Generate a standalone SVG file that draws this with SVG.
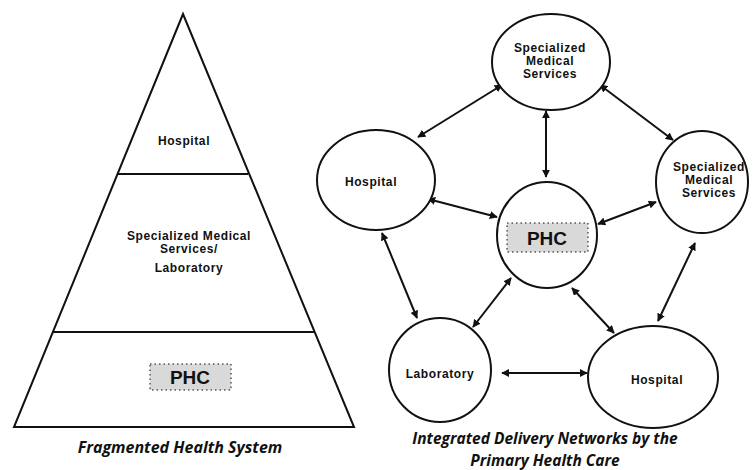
<svg xmlns="http://www.w3.org/2000/svg" width="755" height="470" viewBox="0 0 755 470">
<style>
.ln{stroke:#111;stroke-width:2;fill:none}
.nd{stroke:#111;stroke-width:2;fill:#fff}
.t{font-family:"Liberation Sans",Arial,sans-serif;font-weight:bold;font-size:12px;letter-spacing:0.6px;fill:#111;text-anchor:middle}
.phc{font-family:"Liberation Sans",Arial,sans-serif;font-weight:bold;font-size:19px;fill:#111;text-anchor:middle}
.box{fill:#d9d9d9;stroke:#555;stroke-width:1.5;stroke-dasharray:1.5 3}
.cap{font-family:"Open Sans","DejaVu Sans",sans-serif;font-style:italic;font-weight:bold;font-size:16px;fill:#111;text-anchor:middle}
.cap2{font-size:15.5px}
.ar{stroke:#111;stroke-width:2;fill:none;marker-start:url(#ah);marker-end:url(#ah)}
</style>
<defs>
<marker id="ah" viewBox="0 0 10 10" refX="9" refY="5" markerWidth="4" markerHeight="4" orient="auto-start-reverse" markerUnits="strokeWidth">
<path d="M0,0 L10,5 L0,10 z" fill="#111"/>
</marker>
</defs>
<rect width="755" height="470" fill="#fff"/>
<g id="pyramid">
<polygon class="ln" points="183,14 354,427 14,427"/>
<line class="ln" x1="118" y1="174" x2="248" y2="174"/>
<line class="ln" x1="52" y1="332" x2="314" y2="332"/>
<text class="t" x="184" y="145">Hospital</text>
<text class="t" x="189" y="240">Specialized Medical</text>
<text class="t" x="189" y="253">Services/</text>
<text class="t" x="189" y="272">Laboratory</text>
<rect class="box" x="150" y="364" width="81" height="26"/>
<text class="phc" x="190" y="384">PHC</text>
<text class="cap" x="180" y="453">Fragmented Health System</text>
</g>
<g id="connectors">
<line class="ar" x1="418" y1="137" x2="502" y2="85"/>
<line class="ar" x1="546" y1="111" x2="546" y2="177"/>
<line class="ar" x1="600" y1="85" x2="673" y2="140"/>
<line class="ar" x1="428" y1="199" x2="497" y2="217"/>
<line class="ar" x1="598" y1="224" x2="656" y2="202"/>
<line class="ar" x1="382" y1="233" x2="417" y2="318"/>
<line class="ar" x1="511" y1="278" x2="473" y2="327"/>
<line class="ar" x1="572" y1="288" x2="614" y2="333"/>
<line class="ar" x1="695" y1="243" x2="658" y2="321"/>
<line class="ar" x1="502" y1="373" x2="587" y2="373"/>
</g>
<g id="sms-top">
<ellipse class="nd" cx="551" cy="62" rx="59" ry="48"/>
<text class="t" x="550" y="52">Specialized</text>
<text class="t" x="550" y="65">Medical</text>
<text class="t" x="550" y="78">Services</text>
</g>
<g id="hospital-left">
<ellipse class="nd" cx="376" cy="180" rx="59" ry="50"/>
<text class="t" x="371" y="186">Hospital</text>
</g>
<g id="sms-right">
<ellipse class="nd" cx="702" cy="182" rx="46" ry="51"/>
<text class="t" x="709" y="171">Specialized</text>
<text class="t" x="709" y="184">Medical</text>
<text class="t" x="709" y="197">Services</text>
</g>
<g id="phc">
<ellipse class="nd" cx="547" cy="235" rx="50" ry="53"/>
<rect class="box" x="507" y="223" width="81" height="29"/>
<text class="phc" x="547" y="245">PHC</text>
</g>
<g id="laboratory">
<ellipse class="nd" cx="440" cy="370" rx="51" ry="52"/>
<text class="t" x="440" y="378">Laboratory</text>
</g>
<g id="hospital-bottom">
<ellipse class="nd" cx="653" cy="377" rx="65" ry="51"/>
<text class="t" x="657" y="384">Hospital</text>
</g>
<g id="caption-right">
<text class="cap cap2" x="545" y="444">Integrated Delivery Networks by the</text>
<text class="cap cap2" x="545" y="466">Primary Health Care</text>
</g>
</svg>
